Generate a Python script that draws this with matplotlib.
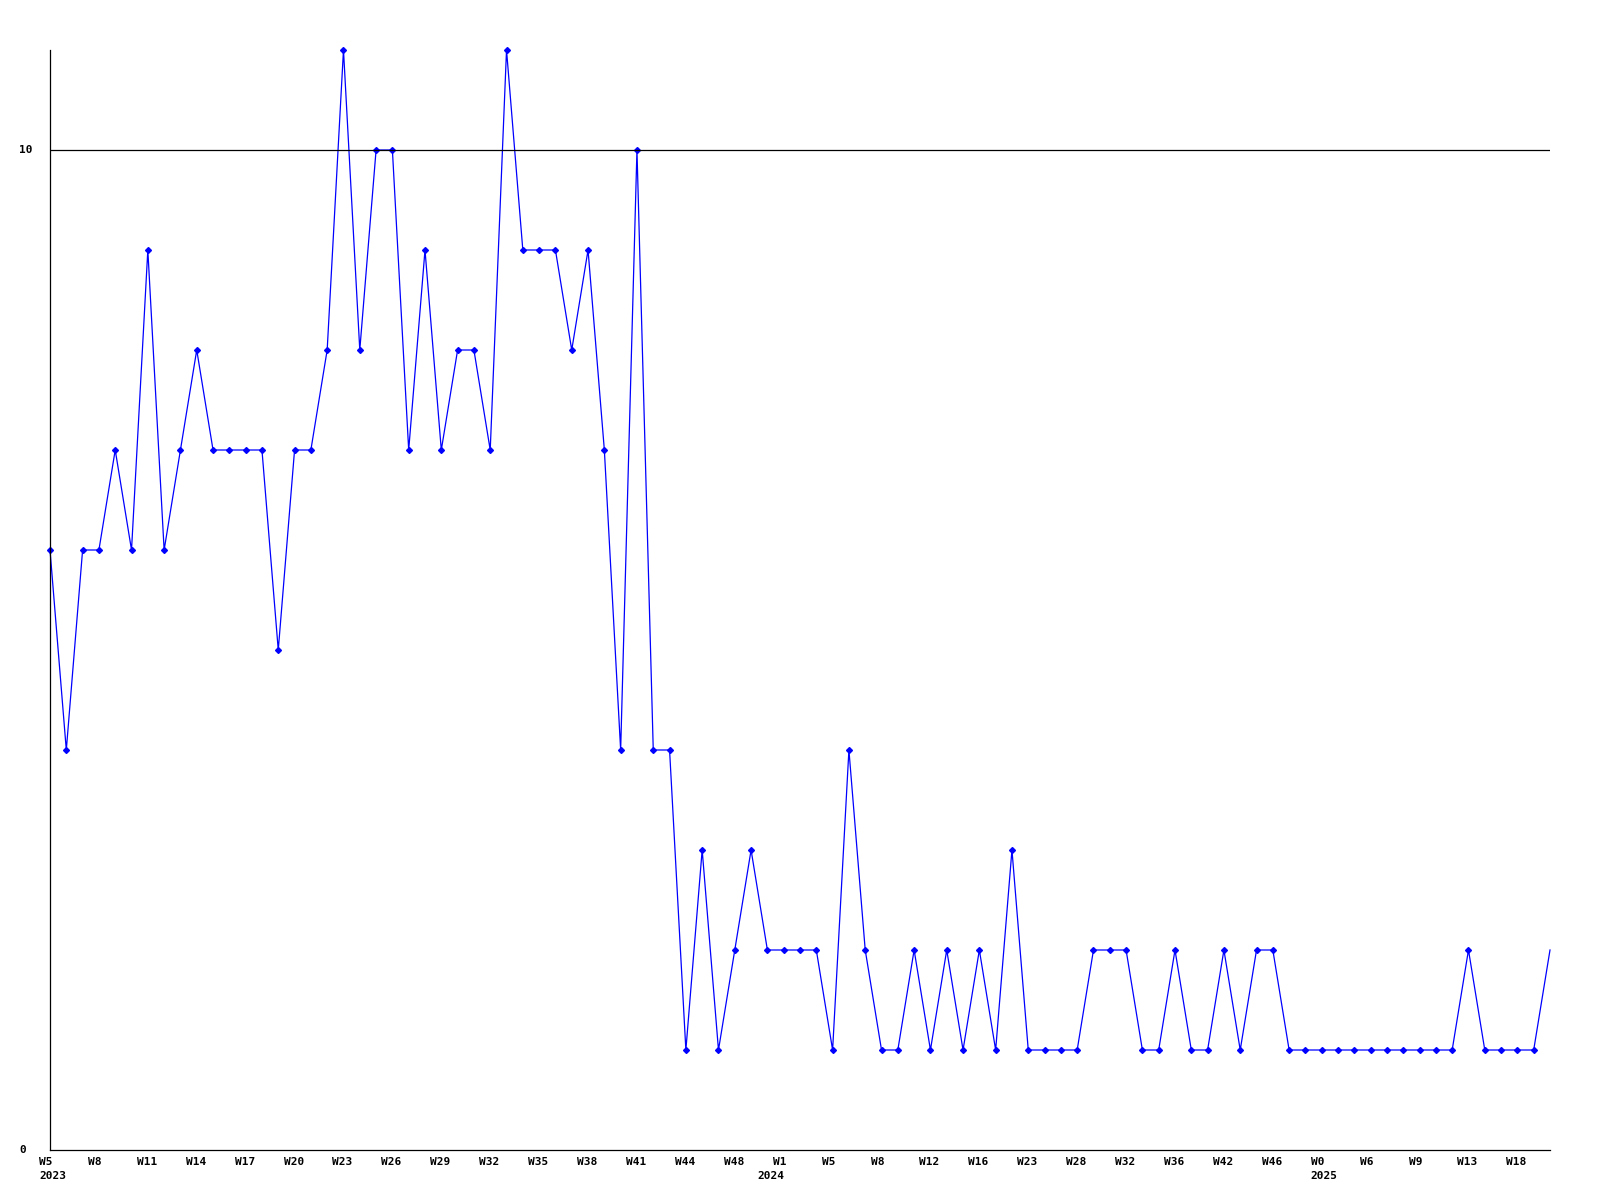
import matplotlib.pyplot as plt
import matplotlib.transforms as mtransforms

# weekly counts, one entry per reported week
values = [6, 4, 6, 6, 7, 6, 9, 6, 7, 8, 7, 7, 7, 7, 5, 7, 7, 8, 11, 8,
          10, 10, 7, 9, 7, 8, 8, 7, 11, 9, 9, 9, 8, 9, 7, 4, 10, 4, 4, 1,
          3, 1, 2, 3, 2, 2, 2, 2, 1, 4, 2, 1, 1, 2, 1, 2, 1, 2, 1, 3,
          1, 1, 1, 1, 2, 2, 2, 1, 1, 2, 1, 1, 2, 1, 2, 2, 1, 1, 1, 1,
          1, 1, 1, 1, 1, 1, 1, 2, 1, 1, 1, 1, 2]

# a label every third point
week_labels = ["W5", "W8", "W11", "W14", "W17", "W20", "W23", "W26", "W29", "W32",
               "W35", "W38", "W41", "W44", "W48", "W1", "W5", "W8", "W12", "W16",
               "W23", "W28", "W32", "W36", "W42", "W46", "W0", "W6", "W9", "W13", "W18"]
year_labels = ["2023", "2024", "2025"]
year_index = [0, 45, 78]

FONT = dict(family="DejaVu Sans Mono", fontweight="bold", fontsize=8, color="black")

fig = plt.figure(figsize=(16, 12), dpi=100)
ax = fig.add_axes([50 / 1600, 50 / 1200, 1500 / 1600, 1100 / 1200])

x = list(range(len(values)))
ax.plot(x, values, color="#0000ff", linewidth=0.9, marker="D", markersize=3,
        markevery=list(range(len(values) - 1)), clip_on=False)
ax.axhline(10, color="black", linewidth=0.9)

ax.set_xlim(0, len(values) - 1)
ax.set_ylim(0, 11)
for side in ("top", "right"):
    ax.spines[side].set_visible(False)
for side in ("left", "bottom"):
    ax.spines[side].set_linewidth(0.9)
ax.set_xticks([])
ax.set_yticks([])

# y labels, left aligned
ytrans = ax.get_yaxis_transform()
for v in (0, 10):
    ax.text(-31 / 1500, v, str(v), ha="left", va="center", transform=ytrans, **FONT)

# week labels under the axis
xtrans = ax.get_xaxis_transform()
week_off = mtransforms.offset_copy(xtrans, fig=fig, x=-11, y=-7, units="dots")
for i, lab in enumerate(week_labels):
    ax.text(i * 3, 0, lab, ha="left", va="top", transform=week_off, **FONT)

for lab, idx in zip(year_labels, year_index):
    if idx == 45:
        off = mtransforms.offset_copy(xtrans, fig=fig, x=1, y=-21, units="dots")
        ax.text(idx, 0, lab, ha="right", va="top", transform=off, **FONT)
    else:
        off = mtransforms.offset_copy(xtrans, fig=fig, x=-11, y=-21, units="dots")
        ax.text(idx, 0, lab, ha="left", va="top", transform=off, **FONT)

plt.savefig("out.png", dpi=100)
